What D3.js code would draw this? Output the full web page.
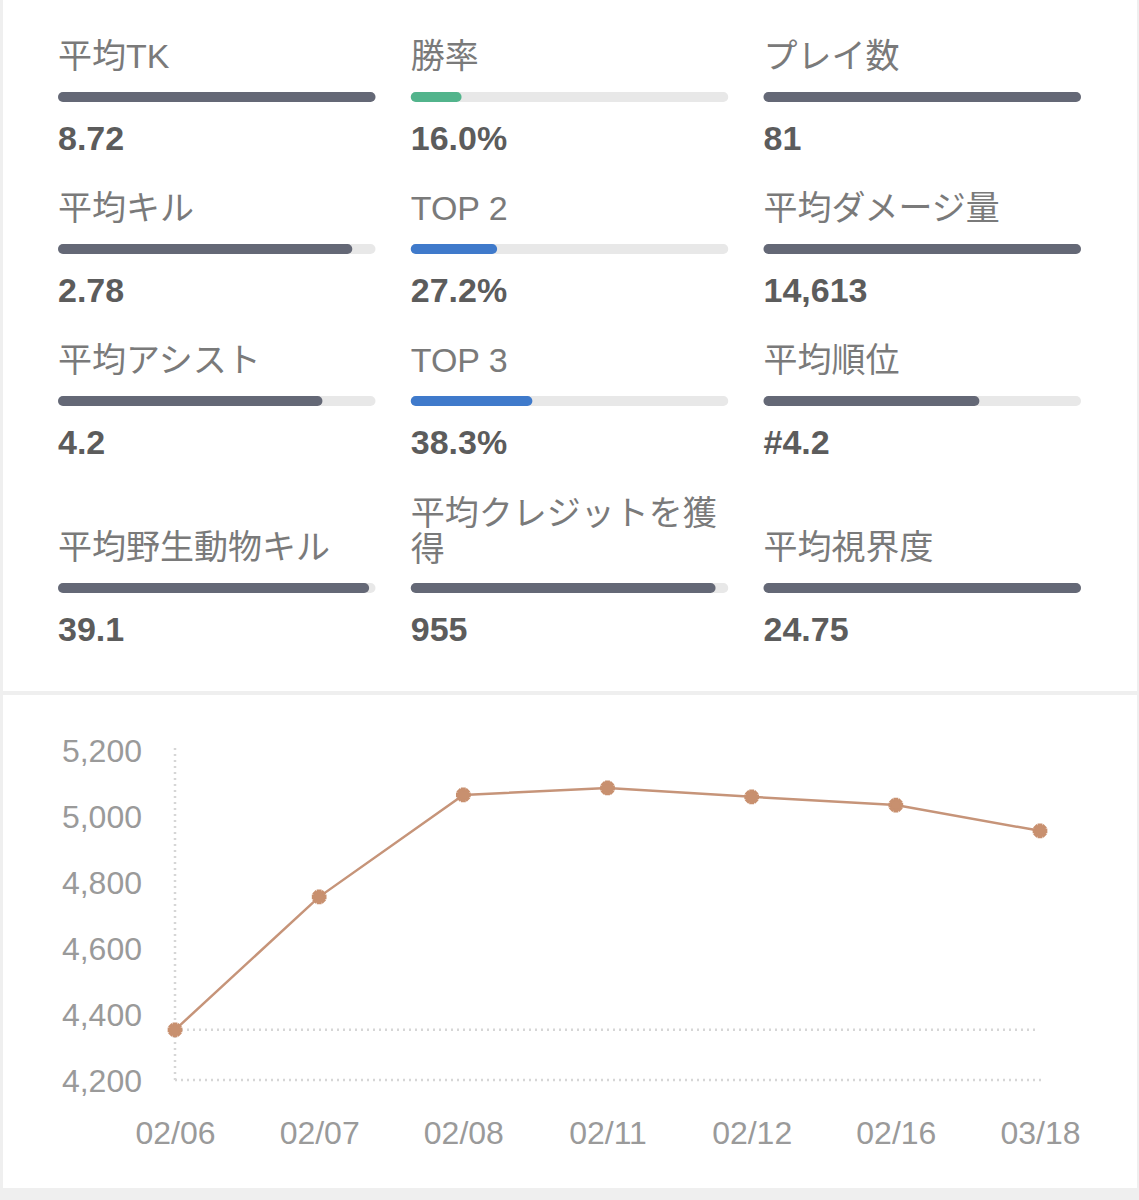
<!DOCTYPE html>
<html lang='ja'>
<head>
    <title>Stats</title>
    <meta charset='UTF-8'>
    <script src='https://d3js.org/d3.v7.min.js'></script>
    <style>
      body { margin: 0; background: #efefef; }
      svg { display: block; }
      .lbl { font-family: 'Liberation Sans', 'Noto Sans CJK JP', sans-serif; font-size: 34px; fill: #7a7a7a; }
      .val { font-family: 'Liberation Sans', 'Noto Sans CJK JP', sans-serif; font-size: 34px; font-weight: bold; fill: #5c5c5c; }
      .tick text { font-family: 'Liberation Sans', sans-serif; font-size: 32px; fill: #9a9a9a; }
    </style>
</head>
<body>
<svg width='1139' height='1200'></svg>

<script>
  // stat cards, row by row (3 columns)
  const statLabels = ['平均TK', '勝率', 'プレイ数',
                      '平均キル', 'TOP 2', '平均ダメージ量',
                      '平均アシスト', 'TOP 3', '平均順位',
                      '平均野生動物キル', '平均クレジットを獲得', '平均視界度']
  const statValues = ['8.72', '16.0%', '81',
                      '2.78', '27.2%', '14,613',
                      '4.2', '38.3%', '#4.2',
                      '39.1', '955', '24.75']
  const statFill = [1.0, 0.16, 1.0,
                    0.927, 0.272, 1.0,
                    0.833, 0.383, 0.68,
                    0.98, 0.96, 1.0]
  const statColor = ['gray', 'green', 'gray',
                     'gray', 'blue', 'gray',
                     'gray', 'blue', 'gray',
                     'gray', 'gray', 'gray']

  // line chart
  const dates = ['02/06', '02/07', '02/08', '02/11', '02/12', '02/16', '03/18']
  const scores = [4352, 4755, 5064, 5085, 5058, 5033, 4955]
  const yTicks = [4200, 4400, 4600, 4800, 5000, 5200]

  const colors = { gray: '#646876', green: '#52b48c', blue: '#3f7acb' }

  const svg = d3.select('svg')

  // panels
  svg.append('rect').attr('x', 3).attr('y', 0).attr('width', 1134).attr('height', 691).attr('fill', '#fff')
  svg.append('rect').attr('x', 3).attr('y', 695).attr('width', 1134).attr('height', 493).attr('fill', '#fff')

  const colX = d3.scaleBand().domain([0, 1, 2]).range([58, 1081]).paddingInner(0.1)
  const barW = colX.bandwidth()
  const rowBarY = [92, 244, 396, 583]

  const cards = svg.append('g').attr('id', 'cards')
    .selectAll('g')
    .data(statLabels.map((l, i) => ({ label: l, value: statValues[i], fill: statFill[i], color: statColor[i], i })))
    .join('g')
      .attr('transform', d => `translate(${colX(d.i % 3)}, ${rowBarY[Math.floor(d.i / 3)]})`)

  const fillScale = d3.scaleLinear().domain([0, 1]).range([0, barW])

  cards.append('rect')
    .attr('width', barW).attr('height', 10).attr('rx', 5)
    .attr('fill', '#e8e8e8')

  cards.append('rect')
    .attr('width', d => fillScale(d.fill)).attr('height', 10).attr('rx', 5)
    .attr('fill', d => colors[d.color])

  cards.append('text')
    .attr('class', 'val')
    .attr('y', 58)
    .text(d => d.value)

  // labels wrap by character if wider than the column
  cards.append('text')
    .attr('class', 'lbl')
    .attr('y', -24)
    .each(function(d) {
      const t = d3.select(this)
      t.text(d.label)
      if (this.getComputedTextLength() <= barW) return
      const chars = Array.from(d.label)
      let line = ''
      const lines = []
      chars.forEach(c => {
        t.text(line + c)
        if (this.getComputedTextLength() > barW) { lines.push(line); line = c } else line += c
      })
      lines.push(line)
      t.text(null)
      lines.forEach((ln, k) => {
        t.append('tspan').attr('x', 0).attr('y', -22 - (lines.length - 1 - k) * 36).text(ln)
      })
    })

  // chart
  const x = d3.scalePoint().domain(dates).range([175, 1040])
  const y = d3.scaleLinear().domain([4200, 5200]).range([1080, 750])

  const dotted = g => g.attr('stroke', '#d6d6d6').attr('stroke-width', 2.5).attr('stroke-dasharray', '2,4').attr('fill', 'none')

  svg.append('line').attr('x1', 175).attr('x2', 175).attr('y1', 748).attr('y2', 1080).call(dotted)
  svg.append('line').attr('x1', 175).attr('x2', 1042).attr('y1', y(4200)).attr('y2', y(4200)).call(dotted)
  svg.append('line').attr('x1', x(dates[0])).attr('x2', 1037)
    .attr('y1', y(d3.min(scores))).attr('y2', y(d3.min(scores))).call(dotted)

  const yAxis = svg.append('g')
    .attr('transform', 'translate(142,0)')
    .call(d3.axisLeft(y).tickValues(yTicks).tickFormat(d3.format(',')).tickSize(0).tickPadding(0))
  yAxis.select('.domain').remove()
  yAxis.selectAll('text').attr('dy', '0.36em')

  const xAxis = svg.append('g')
    .attr('transform', 'translate(0,1121)')
    .call(d3.axisBottom(x).tickSize(0).tickPadding(0))
  xAxis.select('.domain').remove()
  xAxis.selectAll('text').attr('dy', '0.72em')

  svg.append('path')
    .datum(scores)
    .attr('fill', 'none')
    .attr('stroke', '#c69479')
    .attr('stroke-width', 2.5)
    .attr('d', d3.line().x((d, i) => x(dates[i])).y(d => y(d)))

  const marker = d3.symbol().type(d3.symbolCross).size(120)
  const pts = svg.append('g').selectAll('g')
    .data(scores)
    .join('g')
      .attr('transform', (d, i) => `translate(${x(dates[i])},${y(d)})`)
  pts.append('path').attr('d', marker).attr('fill', '#c8906f')
  pts.append('path').attr('d', marker).attr('fill', '#c8906f').attr('transform', 'rotate(45)')
  pts.append('circle').attr('r', 4).attr('fill', '#c8906f')
</script>
</body>
</html>
